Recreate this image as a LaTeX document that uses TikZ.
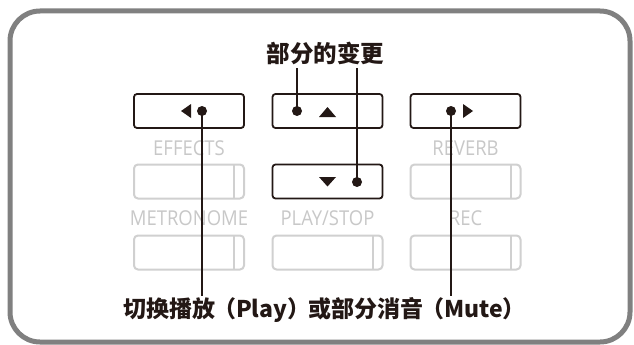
\documentclass[tikz,border=0pt]{standalone}
\usepackage{fontspec}
\newfontfamily\cjk{Noto Sans CJK SC}
\newfontfamily\grayfont[FakeStretch=0.9]{Open Sans}
\definecolor{framegray}{HTML}{808080}
\definecolor{btngray}{HTML}{D0D0D0}
\definecolor{lblgray}{HTML}{C8C8C8}
\definecolor{ink}{HTML}{231815}
\tikzset{
  frame/.style={draw=framegray, line width=5pt, rounded corners=30pt},
  blackbtn/.style={draw=ink, line width=1.8pt, rounded corners=3pt, minimum width=110pt, minimum height=34pt, inner sep=0pt, outer sep=0pt},
  graybtn/.style={draw=btngray, line width=2pt, rounded corners=4pt, minimum width=110pt, minimum height=34pt, inner sep=0pt, outer sep=0pt},
  grayline/.style={draw=btngray, line width=2pt},
  graylbl/.style={text=lblgray, font=\grayfont\fontsize{20.5pt}{21pt}\selectfont, inner sep=0pt},
  dotnode/.style={circle, fill=ink, minimum size=10pt, inner sep=0pt, outer sep=0pt},
  tri/.style={fill=ink},
  cjklbl/.style={text=ink, font=\cjk\bfseries\fontsize{23.5pt}{26pt}\selectfont, inner xsep=0pt},
  thickconn/.style={draw=ink, line width=1.8pt},
  thinconn/.style={draw=ink, line width=1.1pt},
}
\begin{document}
\begin{tikzpicture}[x=1pt, y=-1pt]
\useasboundingbox (0,0) rectangle (634,345);
\fill[white] (0,0) rectangle (634,345);
\draw[frame] (10,11) rectangle (630,342);

% black buttons
\node[blackbtn] (bL) at (189,111) {};
\node[blackbtn] (bU) at (327.5,111) {};
\node[blackbtn] (bR) at (465.5,111) {};
\node[blackbtn] (bD) at (327.5,181.5) {};

% gray buttons
\node[graybtn] (gL2) at (189,181.5) {};
\node[graybtn] (gR2) at (465.5,181.5) {};
\node[graybtn] (gL3) at (189,252.5) {};
\node[graybtn] (gM3) at (327.5,252.5) {};
\node[graybtn] (gR3) at (465.5,252.5) {};
\foreach \b in {gL2,gR2,gL3,gM3,gR3}{
  \draw[grayline] ([xshift=-10pt]\b.north east) -- ([xshift=-10pt]\b.south east);
}

% gray labels
\node[graylbl] (lEff) at (189,148) {EFFECTS};
\node[graylbl] (lRev) at (465.5,148) {REVERB};
\node[graylbl] (lMet) at (189,218.5) {METRONOME};
\node[graylbl] (lPlay) at (327.5,218.5) {PLAY/STOP};
\node[graylbl] (lRec) at (465.5,218.5) {REC};

% triangles
\fill[tri] (181,111) -- (191,104) -- (191,118) -- cycle;
\fill[tri] (319,117) -- (336,117) -- (327.5,107) -- cycle;
\fill[tri] (319,177) -- (336,177) -- (327.5,186.5) -- cycle;
\fill[tri] (473,111) -- (463,104) -- (463,118) -- cycle;

% dots
\node[dotnode] (dL) at (202,111) {};
\node[dotnode] (dU) at (297,111) {};
\node[dotnode] (dD) at (357,182) {};
\node[dotnode] (dR) at (451,111) {};

% labels
\node[cjklbl, inner ysep=3pt] (top) at (325.5,53) {部分的变更};
\node[cjklbl, inner ysep=1pt, font=\cjk\bfseries\fontsize{23pt}{26pt}\selectfont] (bot) at (324.5,310) {切换播放\kern-2pt（Play）\kern-2pt或部分消音\kern-2pt（Mute）};

% connectors
\draw[thickconn] (dU.center) -- (dU |- top.south);
\draw[thickconn] (dD.center) -- (dD |- top.south);
\draw[thinconn] (dL.center) -- (dL |- bot.north);
\draw[thinconn] (dR.center) -- (dR |- bot.north);
\end{tikzpicture}
\end{document}
